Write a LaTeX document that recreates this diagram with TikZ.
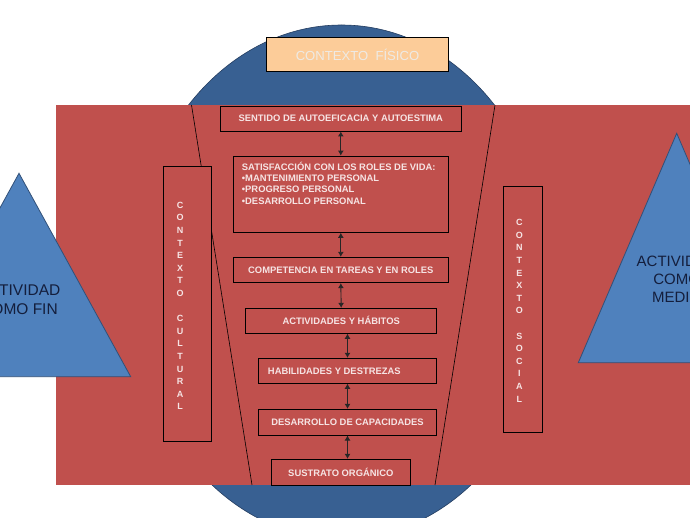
\documentclass[tikz,border=0pt]{standalone}
\usepackage{fontspec}
\setmainfont{Liberation Sans}
\usetikzlibrary{arrows.meta}
\definecolor{fondo}{RGB}{192,80,77}
\definecolor{esfera}{RGB}{56,96,146}
\definecolor{esferaborde}{RGB}{35,60,95}
\definecolor{azul}{RGB}{79,129,189}
\definecolor{azulborde}{RGB}{50,80,120}
\definecolor{melocoton}{RGB}{252,204,153}
\definecolor{letra}{RGB}{246,228,228}
\definecolor{letraclara}{RGB}{238,234,228}
\definecolor{oscuro}{RGB}{20,30,60}

\tikzset{
  caja/.style={draw=black, line width=0.9pt, fill=fondo, inner sep=0pt},
  rotulo/.style={text=letra, inner sep=0pt, font=\fontsize{9.4}{11.3}\selectfont\bfseries},
  vertical/.style={text=letra, align=center, inner sep=0pt, font=\fontsize{9}{12.6}\selectfont\bfseries},
  flecha/.style={{Latex[length=5pt,width=6pt]}-{Latex[length=5pt,width=6pt]}, line width=0.9pt, draw=black!85},
  triangulo/.style={fill=azul, draw=azulborde, line width=0.8pt},
  tritexto/.style={text=oscuro, align=center, inner sep=0pt}
}

\begin{document}
\begin{tikzpicture}[x=1pt,y=-1pt]
  \useasboundingbox (0,0) rectangle (690,518);
  \clip (0,0) rectangle (690,518);

  % fondo: esfera y franja
  \filldraw[fill=esfera, draw=esferaborde, line width=0.6pt] (341.5,282) ellipse [x radius=211pt, y radius=257pt];
  \fill[fondo] (55.7,105) rectangle (700,485);
  \draw[line width=0.6pt] (191.5,105) -- (252,485);
  \draw[line width=0.6pt] (495,105) -- (435,485);

  % triangulos
  \filldraw[triangulo] (19,173.3) -- (130.7,376.7) -- (-92.7,376.7) -- cycle;
  \node[tritexto, font=\fontsize{15.5}{19}\selectfont] (fin) at (19,299.5) {ACTIVIDAD\\COMO FIN};
  \filldraw[triangulo] (676.7,133.3) -- (775,362.7) -- (578.3,362.7) -- cycle;
  \node[tritexto, font=\fontsize{15}{18}\selectfont] (medio) at (676.7,279) {ACTIVIDAD\\COMO\\MEDIO};

  % contextos
  \node[draw=black, line width=0.9pt, fill=melocoton, inner sep=0pt, minimum width=181.6pt, minimum height=34pt,
        text=letraclara, font=\fontsize{13.1}{15}\selectfont] (fisico) at (357.5,54.7) {CONTEXTO\ \ FÍSICO};
  \node[caja, minimum width=48.4pt, minimum height=274.3pt] (cultural) at (187.5,303.8) {};
  \node[vertical] (culturaltxt) at (180,305.9) {C\\O\\N\\T\\E\\X\\T\\O\\[12.6pt]C\\U\\L\\T\\U\\R\\A\\L};
  \node[caja, minimum width=39.4pt, minimum height=246.3pt] (social) at (523,309.2) {};
  \node[vertical] (socialtxt) at (519.3,310.8) {C\\O\\N\\T\\E\\X\\T\\O\\[12.6pt]S\\O\\C\\I\\A\\L};

  % columna central
  \node[caja, rotulo, minimum width=241.7pt, minimum height=25pt] (sentido) at (340.8,118.5) {SENTIDO DE AUTOEFICACIA Y AUTOESTIMA};
  \node[caja, minimum width=215pt, minimum height=76.3pt] (satisf) at (340.8,194.2) {};
  \node[rotulo, align=left, anchor=north west] (satisftxt) at (241.7,161.8)
    {SATISFACCIÓN CON LOS ROLES DE VIDA:\\•MANTENIMIENTO PERSONAL\\•PROGRESO PERSONAL\\•DESARROLLO PERSONAL};
  \node[caja, rotulo, minimum width=215pt, minimum height=25.4pt] (compet) at (340.8,270) {COMPETENCIA EN TAREAS Y EN ROLES};
  \node[caja, rotulo, minimum width=191pt, minimum height=25pt] (activ) at (341.2,320.8) {ACTIVIDADES Y HÁBITOS};
  \node[caja, minimum width=178.4pt, minimum height=25pt] (habil) at (347.5,370.8) {};
  \node[rotulo] (habiltxt) at (334.3,370.8) {HABILIDADES Y DESTREZAS};
  \node[caja, rotulo, minimum width=178.4pt, minimum height=25.7pt] (desarr) at (347.5,422.2) {DESARROLLO DE CAPACIDADES};
  \node[caja, rotulo, minimum width=138.3pt, minimum height=25.7pt] (sustr) at (340.8,472.2) {SUSTRATO ORGÁNICO};

  \draw[flecha] (sentido.south) -- (satisf.north);
  \draw[flecha] (satisf.south) -- (compet.north);
  \draw[flecha] (compet.south) -- (activ.north);
  \draw[flecha] (activ.south -| habil.north) -- (habil.north);
  \draw[flecha] (habil.south) -- (desarr.north);
  \draw[flecha] (desarr.south) -- (sustr.north -| desarr.south);
\end{tikzpicture}
\end{document}
